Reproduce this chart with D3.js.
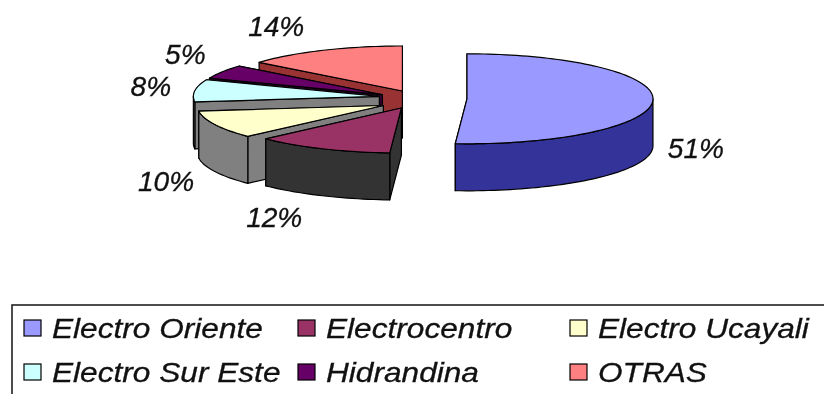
<!DOCTYPE html>
<html lang="es">
<head>
    <meta charset="UTF-8">
    <title>Electro</title>
    <script src="https://d3js.org/d3.v7.min.js"></script>
    <style>
        html,body{margin:0;padding:0;background:#fff;overflow:hidden;}
        svg{display:block;filter:blur(0.5px);}
        text{font-family:"Liberation Sans",Arial,sans-serif;font-style:italic;fill:#111;stroke:#111;stroke-width:0.3px;}
    </style>
</head>
<body>

<svg width="824" height="394"></svg>

<script>

    var categorias = ['Electro Oriente','Electrocentro','Electro Ucayali','Electro Sur Este','Hidrandina','OTRAS'];
    var valores = [51,12,10,8,5,14];
    var coloresTapa = ['#9999ff','#993366','#ffffcc','#ccffff','#660066','#ff8080'];
    var coloresLado = ['#333399','#333333','#808080','#808080','#330033','#993333'];

    // ajuste de cada etiqueta respecto al borde de su sector
    var ajusteEtiqueta = [[43,48],[-48,69],[-49,57],[-44,-4],[-37,-17],[-47,-24]];
    // ajuste fino del centro de cada sector
    var ajusteCentro = [[-1,-1],[-1,0],[3,2],[3,-2],[0,0],[0,0]];

    var cx = 422, cy = 99.5;      // centro sin separar
    var rx = 186, ry = 45;        // elipse de la tapa
    var alto = 47;                // grosor del pastel
    var sepX = 46, sepY = 9.4;    // separacion de los sectores

    var svg = d3.select('svg');
    var tapa = d3.scaleOrdinal().domain(categorias).range(coloresTapa);
    var lado = d3.scaleOrdinal().domain(categorias).range(coloresLado);

    var sectores = d3.pie().sort(null).value(function (d,i) { return valores[i]; })(categorias);

    sectores.forEach(function (s,i) {
        var m = (s.startAngle + s.endAngle) / 2;
        s.mid = m;
        s.x0 = cx + sepX * Math.sin(m) + ajusteCentro[i][0];
        s.y0 = cy - sepY * Math.cos(m) + ajusteCentro[i][1];
    });

    function punto(s,a,h) {
        return [s.x0 + rx * Math.sin(a), s.y0 - ry * Math.cos(a) + (h || 0)];
    }

    function arco(s,a0,a1,h) {
        var n = Math.max(2, Math.ceil((a1 - a0) / 0.03));
        return d3.range(n + 1).map(function (i) {
            return punto(s, a0 + (a1 - a0) * i / n, h);
        });
    }

    var linea = d3.line();
    var g = svg.append('g');

    function pintar(pts,color) {
        g.append('path')
            .attr('d', linea(pts) + 'Z')
            .attr('fill', color)
            .attr('stroke', '#000')
            .attr('stroke-width', 1.2)
            .attr('stroke-linejoin', 'round');
    }

    // de atras hacia adelante
    [5,4,3,2,1,0].forEach(function (i) {
        var s = sectores[i];
        var centro = [s.x0, s.y0], abajo = [s.x0, s.y0 + alto];
        var color = lado(s.data);

        // caras del corte
        [s.endAngle, s.startAngle].forEach(function (a) {
            pintar([centro, punto(s,a), punto(s,a,alto), abajo], color);
        });

        // pared exterior, solo la parte de delante
        var a0 = Math.max(s.startAngle, Math.PI / 2);
        var a1 = Math.min(s.endAngle, Math.PI * 1.5);
        if (a1 > a0) {
            pintar(arco(s,a0,a1).concat(arco(s,a0,a1,alto).reverse()), color);
        }

        pintar([centro].concat(arco(s,s.startAngle,s.endAngle)), tapa(s.data));
    });

    // porcentajes
    svg.append('g').selectAll('text')
        .data(sectores)
        .enter()
        .append('text')
        .attr('transform', function (d,i) {
            var p = punto(d,d.mid);
            return 'translate(' + (p[0] + ajusteEtiqueta[i][0]) + ',' + (p[1] + ajusteEtiqueta[i][1]) + ') scale(1.04,1)';
        })
        .attr('text-anchor', 'middle')
        .attr('dominant-baseline', 'central')
        .attr('font-size', 27)
        .text(function (d,i) { return valores[i] + '%'; });

    // leyenda
    svg.append('rect')
        .attr('x', 12).attr('y', 305)
        .attr('width', 830).attr('height', 120)
        .attr('fill', 'none')
        .attr('stroke', '#222')
        .attr('stroke-width', 1.6);

    var colX = d3.scaleOrdinal().domain([0,1,2]).range([24,298,570]);
    var filaY = d3.scaleOrdinal().domain([0,1]).range([328,372]);

    var item = svg.append('g').selectAll('g')
        .data(categorias)
        .enter()
        .append('g')
        .attr('transform', function (d,i) {
            return 'translate(' + colX(i % 3) + ',' + filaY(Math.floor(i / 3)) + ')';
        });

    item.append('rect')
        .attr('x', 0).attr('y', -8)
        .attr('width', 17).attr('height', 16)
        .attr('fill', function (d) { return tapa(d); })
        .attr('stroke', '#000')
        .attr('stroke-width', 1.2);

    item.append('text')
        .attr('transform', 'translate(28,0) scale(1.13,1)')
        .attr('dominant-baseline', 'central')
        .attr('font-size', 28)
        .text(function (d) { return d; });

</script>

</body>
</html>
